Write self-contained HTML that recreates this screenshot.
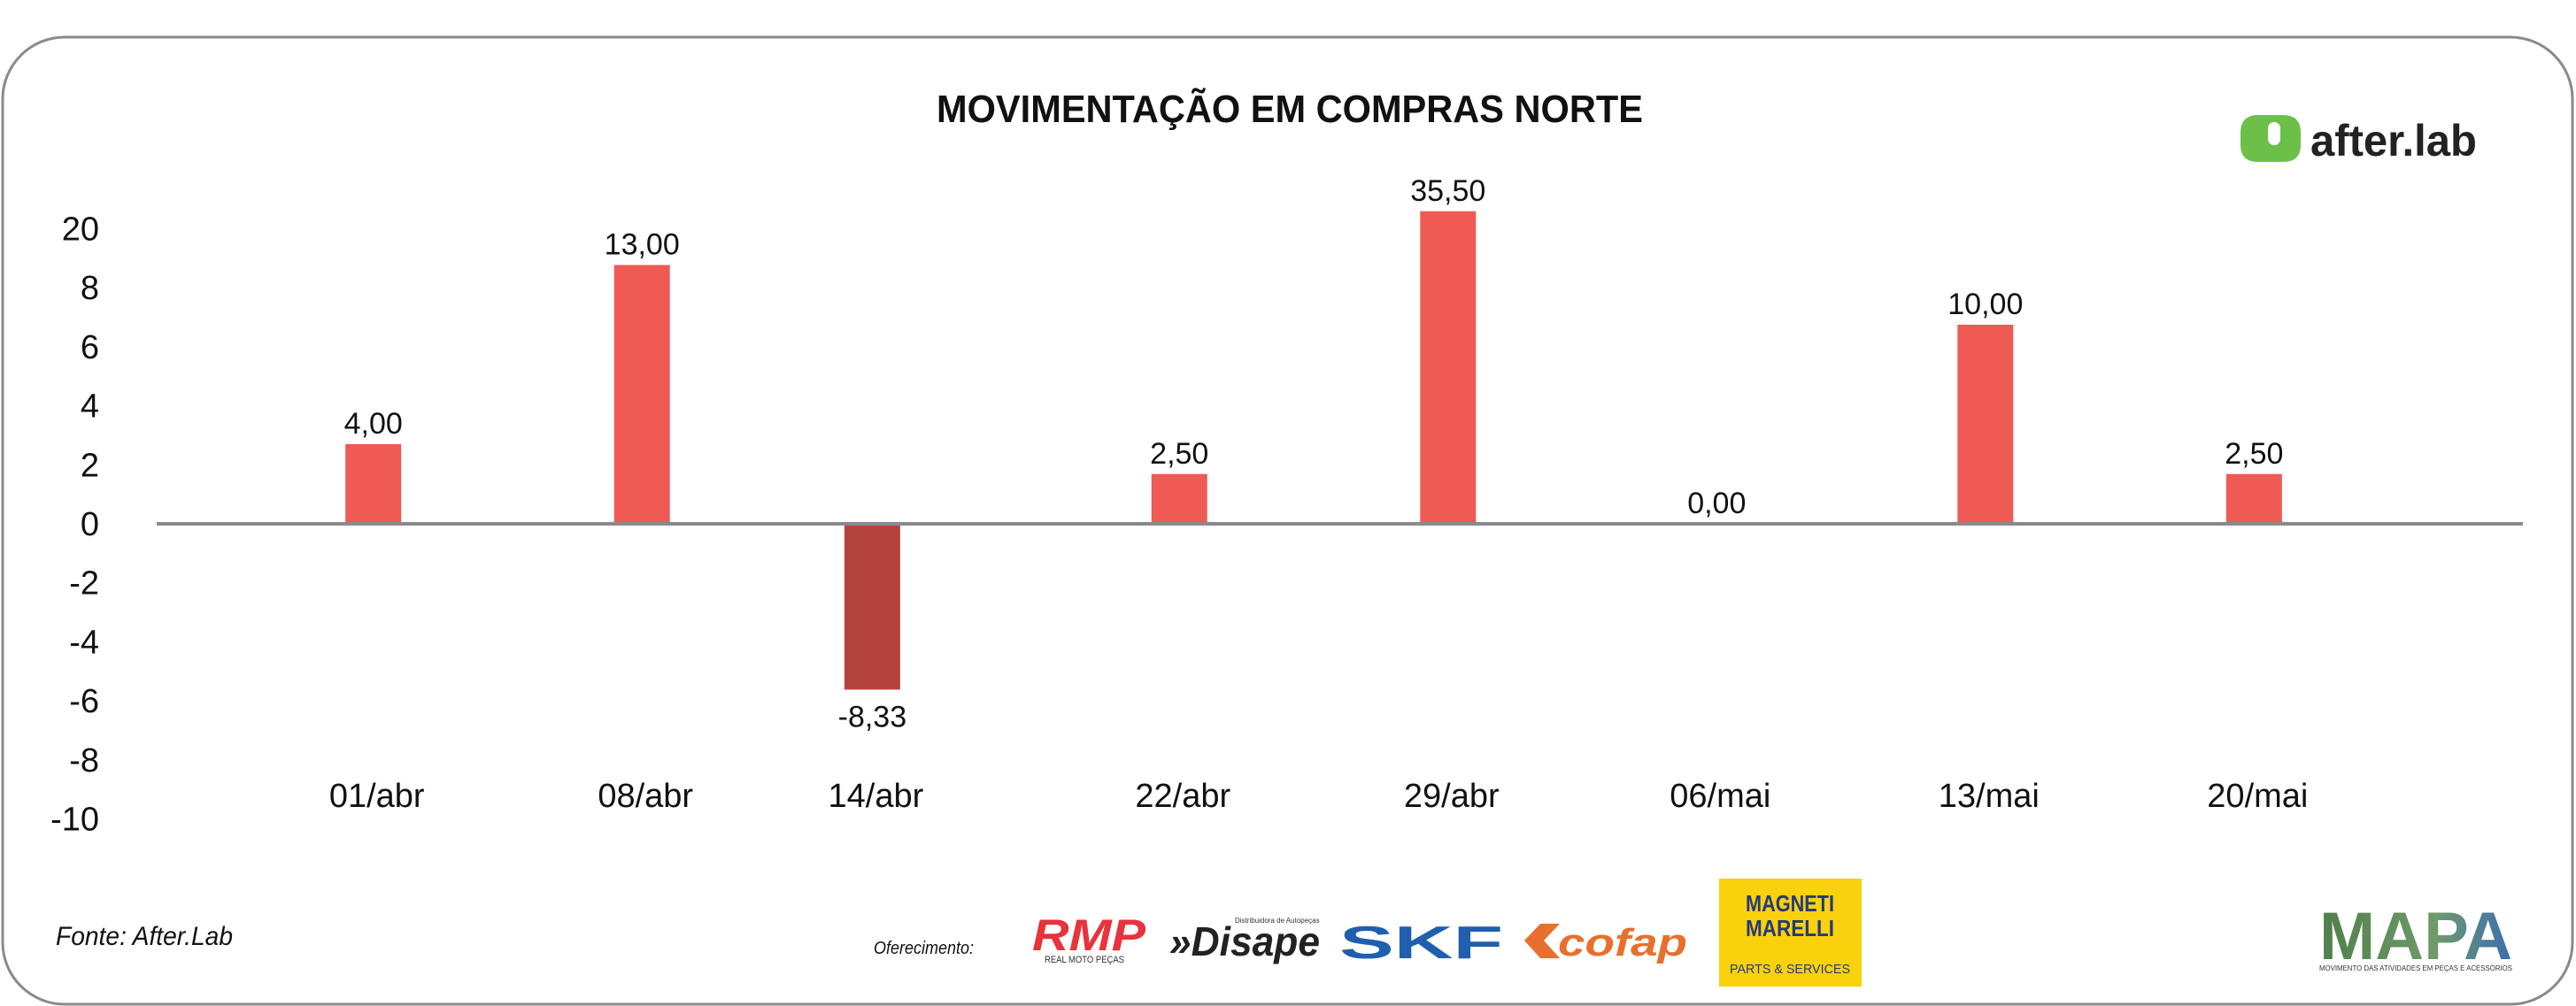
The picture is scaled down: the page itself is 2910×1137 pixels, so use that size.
<!DOCTYPE html>
<html><head><meta charset="utf-8"><style>
html,body{margin:0;padding:0;background:#fff;}
svg{display:block;}
text{font-family:"Liberation Sans",sans-serif;}
</style></head><body>
<svg id="chart" width="2910" height="1137" viewBox="0 0 2910 1137" xmlns="http://www.w3.org/2000/svg">
<rect x="3" y="42" width="2903" height="1093" rx="70" ry="70" fill="#fff" stroke="#8a8a8a" stroke-width="3"/>
<text x="1457" y="138" text-anchor="middle" font-size="44" font-weight="bold" fill="#111" textLength="798" lengthAdjust="spacingAndGlyphs">MOVIMENTAÇÃO EM COMPRAS NORTE</text>
<g>
<path d="M2531 150 q0 -20 20 -20 h28 q20 0 20 20 v14 q0 19 -20 19 h-28 q-20 0 -20 -19z" fill="#6cc04a"/>
<rect x="2562" y="138" width="14" height="26" rx="7" fill="#fff"/>
<text x="2610" y="176" font-size="50" font-weight="bold" fill="#222" textLength="188" lengthAdjust="spacingAndGlyphs">after.lab</text>
</g>
<g id="yaxis"></g>
<g id="bars"></g>
<line x1="177" y1="592" x2="2850" y2="592" stroke="#8a8a8d" stroke-width="4"/>
<g id="xaxis"></g>
<text x="63" y="1068" font-size="30" font-style="italic" fill="#111" textLength="200" lengthAdjust="spacingAndGlyphs">Fonte: After.Lab</text>
<text x="987" y="1078" font-size="20" font-style="italic" fill="#111" textLength="113" lengthAdjust="spacingAndGlyphs">Oferecimento:</text>
<g>
<text x="1166" y="1074" font-size="50" font-weight="bold" font-style="italic" fill="#e8323c" textLength="128" lengthAdjust="spacingAndGlyphs">RMP</text>
<text x="1180" y="1088" font-size="11" fill="#333" textLength="90" lengthAdjust="spacingAndGlyphs">REAL MOTO PEÇAS</text>
</g>
<g>
<text x="1321" y="1080" font-size="46" font-weight="bold" font-style="italic" fill="#222" textLength="170" lengthAdjust="spacingAndGlyphs">»Disape</text>
<text x="1395" y="1043" font-size="8" fill="#333">Distribuidora de Autopeças</text>
</g>
<text x="1513" y="1083" font-size="52" font-weight="bold" fill="#1f5fae" textLength="185" lengthAdjust="spacingAndGlyphs">SKF</text>
<g>
<path d="M1722 1063 l18 -19 h22 l-18 19 l18 20 h-22z" fill="#e8702e"/>
<text x="1760" y="1080" font-size="44" font-weight="bold" font-style="italic" fill="#e8702e" textLength="146" lengthAdjust="spacingAndGlyphs">cofap</text>
</g>
<g>
<rect x="1942" y="993" width="161" height="122" fill="#f9d10d"/>
<text x="2022" y="1030" text-anchor="middle" font-size="26" font-weight="bold" fill="#243a7a" textLength="100" lengthAdjust="spacingAndGlyphs">MAGNETI</text>
<text x="2022" y="1058" text-anchor="middle" font-size="26" font-weight="bold" fill="#243a7a" textLength="100" lengthAdjust="spacingAndGlyphs">MARELLI</text>
<text x="2022" y="1100" text-anchor="middle" font-size="15" fill="#243a7a" textLength="136" lengthAdjust="spacingAndGlyphs">PARTS &amp; SERVICES</text>
</g>
<g>
<defs><linearGradient id="mg" x1="0" x2="1" y1="0" y2="0"><stop offset="0" stop-color="#4f7f4a"/><stop offset="0.6" stop-color="#6f9a6a"/><stop offset="1" stop-color="#3b6fb0"/></linearGradient></defs>
<text x="2620" y="1084" font-size="76" font-weight="bold" fill="url(#mg)" textLength="218" lengthAdjust="spacingAndGlyphs">MAPA</text>
<text x="2620" y="1097" font-size="8" fill="#333" textLength="218" lengthAdjust="spacingAndGlyphs">MOVIMENTO DAS ATIVIDADES EM PEÇAS E ACESSÓRIOS</text>
</g>
</svg>
<script>
const categories = ["01/abr","08/abr","14/abr","22/abr","29/abr","06/mai","13/mai","20/mai"];
const dayOffsets = [0,7,13,21,28,35,42,49];
const values = [4.00,13.00,-8.33,2.50,35.50,0.00,10.00,2.50];
const valueLabels = ["4,00","13,00","-8,33","2,50","35,50","0,00","10,00","2,50"];
const yTickLabels = ["20","8","6","4","2","0","-2","-4","-6","-8","-10"];

const NS = "http://www.w3.org/2000/svg";
const zeroY = 592, unitPx = 22.5, breakAt = 13, aboveBreakPx = 2.7;
function xScale(d){ return 421.7 + d*43.36; }
function yLen(v){ const a=Math.abs(v); return a<=breakAt ? a*unitPx : breakAt*unitPx + (a-breakAt)*aboveBreakPx; }
function mk(tag, attrs, parent){ const e=document.createElementNS(NS,tag); for(const k in attrs) e.setAttribute(k,attrs[k]); parent.appendChild(e); return e; }

const yg = document.getElementById("yaxis");
yTickLabels.forEach((t,i)=>{
  const y = zeroY - (5 - i)*66.7;
  const el = mk("text",{x:112,y:y+13,"text-anchor":"end","font-size":"38",fill:"#111"},yg);
  
  
  el.textContent = t;
});

const bg = document.getElementById("bars");
const xg = document.getElementById("xaxis");
const barW = 63;
values.forEach((v,i)=>{
  const cx = xScale(dayOffsets[i]);
  const h = yLen(v);
  if (h > 0) {
    const r = mk("rect",{x:cx-barW/2,y:v>=0?zeroY-h:zeroY,width:barW,height:h,fill:v>=0?"#f05a55":"#b5433d"},bg);
    
    
  }
  const ly = v>=0 ? zeroY - h - 12 : zeroY + h + 42;
  const lab = mk("text",{x:cx,y:ly,"text-anchor":"middle","font-size":"34",fill:"#111"},bg);
  
  
  lab.textContent = valueLabels[i];
  const cl = mk("text",{x:cx+4,y:912,"text-anchor":"middle","font-size":"38",fill:"#111"},xg);
  
  
  cl.textContent = categories[i];
});
</script>
</body></html>
